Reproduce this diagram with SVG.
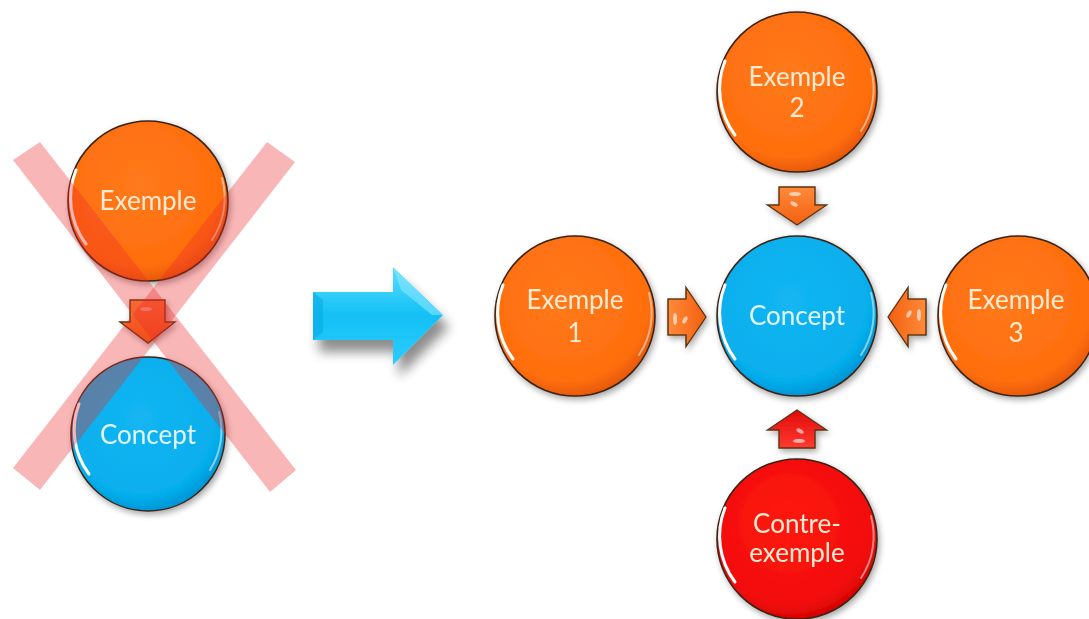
<svg xmlns="http://www.w3.org/2000/svg" width="1089" height="619" viewBox="0 0 1089 619">
  <style>
    .lbl { font-family: Lato, "Open Sans", "Liberation Sans", sans-serif; font-size: 26px; text-anchor: middle; }
    .warm { fill: #FFEBD2; }
    .cool { fill: #E4F4FF; }
    .rim { fill: none; stroke: #3C2414; stroke-width: 1.6; }
    .shine { fill: none; stroke: #FFFFFF; stroke-linecap: round; }
    .arr { stroke: #5A3414; stroke-width: 1.4; stroke-linejoin: miter; }
  </style>
  <defs>
    <radialGradient id="gOrange" cx="0.45" cy="0.4" r="0.6">
      <stop offset="0" stop-color="#FF7A1C"/>
      <stop offset="0.85" stop-color="#FF6E0E"/>
      <stop offset="1" stop-color="#E85A06"/>
    </radialGradient>
    <radialGradient id="gBlue" cx="0.45" cy="0.4" r="0.6">
      <stop offset="0" stop-color="#14B6F2"/>
      <stop offset="0.85" stop-color="#06AEEC"/>
      <stop offset="1" stop-color="#0096D6"/>
    </radialGradient>
    <radialGradient id="gRed" cx="0.45" cy="0.4" r="0.6">
      <stop offset="0" stop-color="#FF1A12"/>
      <stop offset="0.85" stop-color="#F20C0A"/>
      <stop offset="1" stop-color="#D80404"/>
    </radialGradient>
    <linearGradient id="gArrOrange" x1="0" y1="0" x2="0" y2="1">
      <stop offset="0" stop-color="#FF8A3A"/>
      <stop offset="1" stop-color="#F26010"/>
    </linearGradient>
    <linearGradient id="gArrRed" x1="0" y1="0" x2="0" y2="1">
      <stop offset="0" stop-color="#FF3A30"/>
      <stop offset="1" stop-color="#E20A0A"/>
    </linearGradient>
    <linearGradient id="gCyan" x1="0" y1="0" x2="0" y2="1">
      <stop offset="0" stop-color="#5ADCFF"/>
      <stop offset="0.5" stop-color="#12C0F4"/>
      <stop offset="1" stop-color="#30CCFF"/>
    </linearGradient>
    <linearGradient id="gShineL" x1="0" y1="0" x2="0" y2="1">
      <stop offset="0" stop-color="#FFFFFF" stop-opacity="0"/>
      <stop offset="0.5" stop-color="#FFFFFF" stop-opacity="0.75"/>
      <stop offset="1" stop-color="#FFFFFF" stop-opacity="0"/>
    </linearGradient>
    <filter id="drop" x="-20%" y="-20%" width="140%" height="140%">
      <feGaussianBlur in="SourceAlpha" stdDeviation="3"/>
      <feOffset dx="2" dy="3" result="b"/>
      <feComponentTransfer><feFuncA type="linear" slope="0.35"/></feComponentTransfer>
      <feMerge><feMergeNode/><feMergeNode in="SourceGraphic"/></feMerge>
    </filter>
    <filter id="bigDrop" x="-30%" y="-30%" width="160%" height="170%">
      <feGaussianBlur in="SourceAlpha" stdDeviation="6"/>
      <feOffset dx="6" dy="12"/>
      <feComponentTransfer><feFuncA type="linear" slope="0.45"/></feComponentTransfer>
      <feMerge><feMergeNode/><feMergeNode in="SourceGraphic"/></feMerge>
    </filter>
    <!-- block arrow pointing down, origin at top centre of shaft -->
    <path id="blockArrow" d="M -18 0 H 18 V 18 H 29.5 L 0 38 L -29.5 18 H -18 Z"/>
  </defs>

  <rect width="1089" height="619" fill="#FFFFFF"/>

  <!-- left: crossed-out single example -->
  <g id="old-exemple" filter="url(#drop)">
    <circle cx="148" cy="201" r="80" fill="url(#gOrange)"/>
    <circle cx="148" cy="201" r="80" class="rim"/>
    <path d="M 76 170 A 76 76 0 0 0 86 244" class="shine" stroke="url(#gShineL)" stroke-width="3"/>
    <path d="M 222 178 A 76 76 0 0 1 212 240" class="shine" stroke-opacity="0.5" stroke-width="2"/>
    <text x="148" y="210" class="lbl warm">Exemple</text>
  </g>

  <g id="old-arrow" filter="url(#drop)">
    <path d="M 130 300 H 165 V 322 H 175 L 148 343 L 120 322 H 130 Z" fill="url(#gArrOrange)" class="arr"/>
    <ellipse cx="146" cy="309" rx="6" ry="2" fill="#FFFFFF" fill-opacity="0.6"/>
  </g>

  <g id="old-concept" filter="url(#drop)">
    <circle cx="148" cy="434" r="77" fill="url(#gBlue)"/>
    <circle cx="148" cy="434" r="77" class="rim"/>
    <path d="M 79 404 A 73 73 0 0 0 89 474" class="shine" stroke="url(#gShineL)" stroke-width="3"/>
    <path d="M 219 412 A 73 73 0 0 1 210 470" class="shine" stroke-opacity="0.5" stroke-width="2"/>
    <text x="148" y="444" class="lbl cool">Concept</text>
  </g>

  <!-- translucent cross over the left pair -->
  <g id="cross" fill="#EE2A2A" fill-opacity="0.34">
    <polygon points="13,160 40,142 296,470 270,492"/>
    <polygon points="267,142 295,162 40,490 13,468"/>
  </g>

  <!-- big transition arrow -->
  <g id="transition" filter="url(#bigDrop)">
    <path d="M 313 292 H 393 V 267 L 443 315 L 393 365 V 340 H 313 Z" fill="url(#gCyan)"/>
    <path d="M 313 292 L 323 300 V 332 L 313 340 Z" fill="#00A6E0" fill-opacity="0.5"/>
    <path d="M 393 267 L 401 290 L 432 315 L 443 315 Z" fill="#9CEBFF" fill-opacity="0.5"/>
  </g>

  <!-- right: concept surrounded by examples -->
  <g id="exemple-2" filter="url(#drop)">
    <circle cx="797" cy="92" r="80" fill="url(#gOrange)"/>
    <circle cx="797" cy="92" r="80" class="rim"/>
    <path d="M 725 61 A 76 76 0 0 0 735 135" class="shine" stroke="url(#gShineL)" stroke-width="3"/>
    <path d="M 871 69 A 76 76 0 0 1 861 131" class="shine" stroke-opacity="0.5" stroke-width="2"/>
    <text x="797" y="86" class="lbl warm">Exemple</text>
    <text x="797" y="117" class="lbl warm">2</text>
  </g>

  <g id="exemple-1" filter="url(#drop)">
    <circle cx="575" cy="316" r="80" fill="url(#gOrange)"/>
    <circle cx="575" cy="316" r="80" class="rim"/>
    <path d="M 503 285 A 76 76 0 0 0 513 359" class="shine" stroke="url(#gShineL)" stroke-width="3"/>
    <path d="M 649 293 A 76 76 0 0 1 639 355" class="shine" stroke-opacity="0.5" stroke-width="2"/>
    <text x="575" y="309" class="lbl warm">Exemple</text>
    <text x="575" y="342" class="lbl warm">1</text>
  </g>

  <g id="concept" filter="url(#drop)">
    <circle cx="797" cy="316" r="80" fill="url(#gBlue)"/>
    <circle cx="797" cy="316" r="80" class="rim"/>
    <path d="M 725 285 A 76 76 0 0 0 735 359" class="shine" stroke="url(#gShineL)" stroke-width="3"/>
    <path d="M 871 293 A 76 76 0 0 1 861 355" class="shine" stroke-opacity="0.5" stroke-width="2"/>
    <text x="797" y="325" class="lbl cool">Concept</text>
  </g>

  <g id="exemple-3" filter="url(#drop)">
    <circle cx="1018" cy="316" r="80" fill="url(#gOrange)"/>
    <circle cx="1018" cy="316" r="80" class="rim"/>
    <path d="M 946 285 A 76 76 0 0 0 956 359" class="shine" stroke="url(#gShineL)" stroke-width="3"/>
    <text x="1016" y="309" class="lbl warm">Exemple</text>
    <text x="1016" y="342" class="lbl warm">3</text>
  </g>

  <g id="contre-exemple" filter="url(#drop)">
    <circle cx="797" cy="539" r="80" fill="url(#gRed)"/>
    <circle cx="797" cy="539" r="80" class="rim"/>
    <path d="M 725 508 A 76 76 0 0 0 735 582" class="shine" stroke="url(#gShineL)" stroke-width="3"/>
    <path d="M 871 516 A 76 76 0 0 1 861 578" class="shine" stroke-opacity="0.5" stroke-width="2"/>
    <text x="797" y="533" class="lbl warm">Contre-</text>
    <text x="797" y="562" class="lbl warm">exemple</text>
  </g>

  <!-- connectors: block arrows into the concept -->
  <g id="connectors" filter="url(#drop)">
    <g transform="translate(797,187)">
      <use href="#blockArrow" fill="url(#gArrOrange)" class="arr"/>
      <ellipse cx="-2" cy="7" rx="6" ry="2" fill="#FFFFFF" fill-opacity="0.6"/>
      <ellipse cx="-3" cy="17" rx="4" ry="2" transform="rotate(30 -3 17)" fill="#FFFFFF" fill-opacity="0.6"/>
    </g>
    <g transform="translate(668,317) rotate(-90)">
      <use href="#blockArrow" fill="url(#gArrOrange)" class="arr"/>
      <ellipse cx="-2" cy="7" rx="6" ry="2" fill="#FFFFFF" fill-opacity="0.6"/>
      <ellipse cx="-3" cy="17" rx="4" ry="2" transform="rotate(30 -3 17)" fill="#FFFFFF" fill-opacity="0.6"/>
    </g>
    <g transform="translate(926,317) rotate(90)">
      <use href="#blockArrow" fill="url(#gArrOrange)" class="arr"/>
      <ellipse cx="-2" cy="7" rx="6" ry="2" fill="#FFFFFF" fill-opacity="0.6"/>
      <ellipse cx="-3" cy="17" rx="4" ry="2" transform="rotate(30 -3 17)" fill="#FFFFFF" fill-opacity="0.6"/>
    </g>
    <g transform="translate(797,448) rotate(180)">
      <use href="#blockArrow" fill="url(#gArrRed)" class="arr"/>
      <ellipse cx="-2" cy="7" rx="6" ry="2" fill="#FFFFFF" fill-opacity="0.6"/>
      <ellipse cx="-3" cy="17" rx="4" ry="2" transform="rotate(30 -3 17)" fill="#FFFFFF" fill-opacity="0.6"/>
    </g>
  </g>
</svg>
